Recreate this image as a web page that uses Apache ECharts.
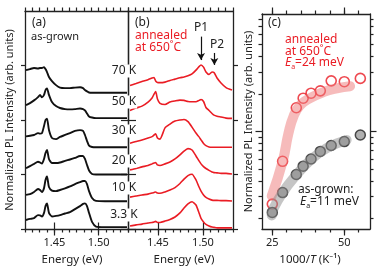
<!DOCTYPE html>
<html>
<head>
<meta charset="utf-8">
<script src="https://cdn.jsdelivr.net/npm/echarts@6/dist/echarts.min.js"></script>
<style>
html, body { margin: 0; padding: 0; background: #fff; }
#chart { width: 378px; height: 271px; }
</style>
</head>
<body>
<div id="chart"></div>
<script>
// panel (a): as-grown spectra, energies in eV
var energyA = [1.4178, 1.4223, 1.4269, 1.4314, 1.4337, 1.4359, 1.4382, 1.4399, 1.4416, 1.4438, 1.4472, 1.4518, 1.4563,
  1.4620, 1.4676, 1.4733, 1.4790, 1.4824, 1.4846, 1.4869, 1.4892, 1.4926, 1.4971, 1.5073, 1.5186, 1.5322]
var grown70 = [0.83, 0.87, 0.91, 0.89, 0.91, 0.91, 0.94, 0.87, 0.76, 0.58, 0.43, 0.28, 0.19, 0.17, 0.17, 0.19, 0.20, 0.17, 0.10, 0.05, 0.01, 0, 0, 0, 0, 0]
var grown50 = [0.55, 0.62, 0.72, 0.84, 0.92, 0.83, 0.92, 1.10, 1.16, 0.92, 0.66, 0.51, 0.44, 0.40, 0.39, 0.40, 0.42, 0.40, 0.35, 0.24, 0.13, 0.09, 0.07, 0.07, 0.07, 0.07]
var grown30 = [0.40, 0.42, 0.45, 0.52, 0.50, 0.52, 0.78, 1.00, 1.05, 0.63, 0.34, 0.30, 0.38, 0.45, 0.52, 0.60, 0.63, 0.60, 0.45, 0.23, 0.06, 0.01, 0, 0, 0, 0]
var grown20 = [0.23, 0.31, 0.39, 0.47, 0.44, 0.40, 0.57, 0.79, 0.90, 0.57, 0.42, 0.42, 0.44, 0.50, 0.55, 0.61, 0.68, 0.68, 0.57, 0.35, 0.15, 0.02, 0, 0, 0, 0]
var grown10 = [0.25, 0.28, 0.36, 0.47, 0.43, 0.36, 0.50, 0.80, 0.93, 0.54, 0.41, 0.39, 0.43, 0.49, 0.56, 0.65, 0.72, 0.76, 0.76, 0.65, 0.39, 0.14, 0.03, 0.02, 0.02, 0.02]
var grown3 = [0.33, 0.37, 0.40, 0.51, 0.50, 0.46, 0.59, 0.84, 0.94, 0.59, 0.46, 0.48, 0.51, 0.57, 0.62, 0.73, 0.84, 0.92, 0.94, 0.84, 0.59, 0.26, 0.09, 0.07, 0.07, 0.07]

// panel (b): annealed at 650 C
var energyB = [1.4189, 1.4256, 1.4322, 1.4389, 1.4434, 1.4456, 1.4474, 1.4494, 1.4522, 1.4578, 1.4633, 1.4689, 1.4744, 1.4789,
  1.4833, 1.4878, 1.4922, 1.4956, 1.4978, 1.5006, 1.5033, 1.5067, 1.5100, 1.5122, 1.5156, 1.5200, 1.5256, 1.5322]
var annealed70 = [0.27, 0.34, 0.41, 0.48, 0.54, 0.56, 0.43, 0.38, 0.37, 0.39, 0.45, 0.50, 0.55, 0.58, 0.62, 0.69, 0.83, 0.96, 1.02, 0.94, 0.76, 0.67, 0.76, 0.74, 0.54, 0.36, 0.19, 0.10]
var annealed50 = [0.35, 0.44, 0.51, 0.66, 0.81, 0.95, 1.04, 0.77, 0.61, 0.57, 0.66, 0.70, 0.73, 0.72, 0.68, 0.67, 0.67, 0.72, 0.75, 0.68, 0.46, 0.35, 0.24, 0.18, 0.14, 0.11, 0.07, 0.06]
var annealed30 = [0.15, 0.21, 0.27, 0.34, 0.39, 0.45, 0.49, 0.34, 0.30, 0.71, 0.85, 0.96, 1.00, 1.02, 0.94, 0.74, 0.52, 0.38, 0.27, 0.14, 0.06, 0.01, 0, 0, 0, 0, 0, 0]
var annealed20 = [0.17, 0.22, 0.28, 0.33, 0.39, 0.42, 0.44, 0.35, 0.33, 0.39, 0.46, 0.57, 0.72, 0.86, 0.95, 0.90, 0.68, 0.50, 0.39, 0.29, 0.22, 0.15, 0.09, 0.07, 0.06, 0.04, 0.04, 0.02]
var annealed10 = [0.17, 0.21, 0.25, 0.28, 0.32, 0.34, 0.36, 0.32, 0.31, 0.36, 0.43, 0.52, 0.67, 0.83, 0.96, 1.01, 0.80, 0.54, 0.39, 0.25, 0.16, 0.10, 0.06, 0.05, 0.05, 0.04, 0.04, 0.03]
var annealed3 = [0.11, 0.15, 0.18, 0.22, 0.24, 0.26, 0.28, 0.24, 0.24, 0.29, 0.35, 0.44, 0.59, 0.77, 0.92, 1.00, 0.88, 0.59, 0.39, 0.26, 0.17, 0.11, 0.07, 0.06, 0.04, 0.04, 0.04, 0.04]

var tempLabels = ['70 K', '50 K', '30 K', '20 K', '10 K', '3.3 K']
var offsets = [5, 4, 3, 2, 1, 0]

// panel (c): integrated intensity vs 1000/T
var invT = [25, 28.57, 33.33, 35.71, 38.46, 41.67, 45.45, 50, 55.56]
var intAnnealed = [0.26, 0.575, 1.55, 1.85, 2.03, 2.12, 2.55, 2.51, 2.67]
var intGrown = [0.223, 0.322, 0.45, 0.525, 0.60, 0.69, 0.77, 0.828, 0.935]
var fitAnnealedX = [24.8, 28.6, 30.6, 32.3, 34.6, 38.1, 42.7, 47.4, 52.0]
var fitAnnealedY = [0.303, 0.575, 0.964, 1.31, 1.62, 1.85, 2.07, 2.22, 2.31]
var fitGrownX = [24.8, 25.3, 28.6, 33.5, 38.4, 43.9, 50.8]
var fitGrownY = [0.211, 0.237, 0.322, 0.45, 0.592, 0.733, 0.853]

var FONT = 'Noto Sans'
var RED = '#ea1c24'
var AXC = '#222'

var chart = echarts.init(document.getElementById('chart'))

function pairs(xs, ys, off) {
  return xs.map(function (x, i) { return [x, ys[i] + (off || 0)] })
}

function xAx(grid, pos, min, max, tick, len, labels, name, namePad) {
  var a = {
    type: 'value', gridIndex: grid, position: pos, min: min, max: max,
    axisLine: { show: !labels, onZero: false, lineStyle: { color: AXC, width: 1.3 } },
    axisTick: { show: true, customValues: tick, length: len, lineStyle: { color: AXC, width: 1.2 } },
    axisLabel: { show: !!labels, customValues: labels || [], color: '#222', fontFamily: FONT, fontSize: 11, margin: 8,
      formatter: function (v) { return grid === 2 ? String(v) : v.toFixed(2) } },
    splitLine: { show: false }
  }
  if (name) {
    a.name = name; a.nameLocation = 'middle'; a.nameGap = 25
    a.nameTextStyle = { color: '#222', fontFamily: FONT, fontSize: 11.5, padding: namePad || 0,
      rich: { i: { fontStyle: 'italic', fontFamily: FONT, fontSize: 11.5, color: '#222' } } }
  }
  return a
}

var minorE = []
for (var k = 170; k <= 184; k++) minorE.push(k / 120)
var minorC = [25, 30, 35, 40, 45, 50, 55]
var minorLog = [0.2, 0.3, 0.4, 0.5, 0.6, 0.7, 0.8, 0.9, 2, 3, 4, 5, 6, 7, 8]
var namePads = [[0, 9, 0, 0], [0, 0, 0, 7]]

var xAxes = []
;[0, 1].forEach(function (g) {
  xAxes.push(xAx(g, 'bottom', 170 / 120, 184 / 120, minorE, 3.5, null))
  xAxes.push(xAx(g, 'bottom', 170 / 120, 184 / 120, [1.45, 1.5], 6.5, [1.45, 1.5], 'Energy (eV)', namePads[g]))
  xAxes.push(xAx(g, 'top', 170 / 120, 184 / 120, minorE, 3.5, null))
  xAxes.push(Object.assign(xAx(g, 'top', 170 / 120, 184 / 120, [1.45, 1.5], 6.5, null), { axisLine: { show: false } }))
})
xAxes.push(xAx(2, 'bottom', 21.42, 58.92, minorC, 3.5, null))
xAxes.push(xAx(2, 'bottom', 21.42, 58.92, [25, 50], 6.5, [25, 50], '1000/{i|T} (K⁻¹)', [0, 12, 0, 0]))
xAxes.push(xAx(2, 'top', 21.42, 58.92, minorC, 3.5, null))
xAxes.push(Object.assign(xAx(2, 'top', 21.42, 58.92, [25, 50], 6.5, null), { axisLine: { show: false } }))
xAxes[1].axisLine = { show: false }
xAxes[5].axisLine = { show: false }
xAxes[9].axisLine = { show: false }

var yName = 'Normalized PL Intensity (arb. units)'
function yAx(grid, pos, type, min, max, tick, len, inside, line, name) {
  var a = {
    type: type, gridIndex: grid, position: pos, min: min, max: max,
    axisLine: { show: line, onZero: false, lineStyle: { color: AXC, width: 1.3 } },
    axisTick: { show: true, inside: inside, customValues: tick, length: len, lineStyle: { color: AXC, width: 1.2 } },
    axisLabel: { show: false },
    splitLine: { show: false }
  }
  if (name) {
    a.name = name; a.nameLocation = 'middle'; a.nameGap = 10
    a.nameTextStyle = { color: '#222', fontFamily: FONT, fontSize: 11 }
  }
  return a
}

var yAxes = [
  yAx(0, 'left', 'value', 0, 8, [0, 2, 4, 6], 4, false, true, yName),
  yAx(0, 'right', 'value', 0, 8, [0, 2, 4, 6], 7, true, true),
  yAx(1, 'left', 'value', 0, 8, [0, 2, 4, 6], 8, true, true),
  yAx(1, 'right', 'value', 0, 8, [0, 2, 4, 6], 5, false, true),
  yAx(2, 'left', 'log', 0.164, 8.8, minorLog, 3.5, false, true, yName),
  yAx(2, 'left', 'log', 0.164, 8.8, [1], 6.5, false, false),
  yAx(2, 'right', 'log', 0.164, 8.8, minorLog, 3.5, false, true),
  yAx(2, 'right', 'log', 0.164, 8.8, [1], 6.5, false, false)
]
yAxes[4].nameGap = 8

var grownSpectra = [grown70, grown50, grown30, grown20, grown10, grown3]
var annealedSpectra = [annealed70, annealed50, annealed30, annealed20, annealed10, annealed3]

var series = []
grownSpectra.forEach(function (s, i) {
  series.push({
    type: 'line', xAxisIndex: 0, yAxisIndex: 0, symbol: 'none', smooth: 0.2, silent: true,
    lineStyle: { color: '#111', width: 1.9 }, data: pairs(energyA, s, offsets[i])
  })
})
annealedSpectra.forEach(function (s, i) {
  series.push({
    type: 'line', xAxisIndex: 4, yAxisIndex: 2, symbol: 'none', smooth: 0.2, silent: true,
    lineStyle: { color: RED, width: 1.6 }, data: pairs(energyB, s, offsets[i])
  })
})
// peak arrows P1, P2
series[6].markLine = {
  silent: true, symbol: ['none', 'arrow'], symbolSize: [6, 7],
  lineStyle: { color: '#111', width: 1.2, type: 'solid' }, label: { show: false },
  data: [
    [{ coord: [1.4978, 7.06] }, { coord: [1.4978, 6.2] }],
    [{ coord: [1.5126, 6.46] }, { coord: [1.5126, 6.02] }]
  ]
}

series.push({
  type: 'line', xAxisIndex: 8, yAxisIndex: 4, symbol: 'none', smooth: true, silent: true,
  lineStyle: { color: 'rgba(238,120,120,0.5)', width: 10, cap: 'round' }, data: pairs(fitAnnealedX, fitAnnealedY)
})
series.push({
  type: 'line', xAxisIndex: 8, yAxisIndex: 4, symbol: 'none', smooth: true, silent: true,
  lineStyle: { color: 'rgba(140,140,140,0.5)', width: 10, cap: 'round' }, data: pairs(fitGrownX, fitGrownY)
})
series.push({
  type: 'scatter', xAxisIndex: 8, yAxisIndex: 4, symbolSize: 10, silent: true,
  itemStyle: { color: 'rgba(255,255,255,0.5)', borderColor: RED, borderWidth: 1.6 }, data: pairs(invT, intAnnealed)
})
series.push({
  type: 'scatter', xAxisIndex: 8, yAxisIndex: 4, symbolSize: 10, silent: true,
  itemStyle: { color: '#9c9c9c', borderColor: '#222', borderWidth: 1.5 }, data: pairs(invT, intGrown)
})

function txt(text, x, y, opts) {
  var st = Object.assign({ text: text, x: x, y: y, fill: '#222', font: '11px "Noto Sans"', align: 'left', verticalAlign: 'middle' }, opts || {})
  return { type: 'text', z: 100, silent: true, style: st }
}

var tempY = [71, 102, 131, 161, 188, 215]
var graphics = [
  txt('(a)', 32, 23, { font: '12px "Noto Sans"' }),
  txt('as-grown', 31, 37),
  txt('(b)', 135, 23, { font: '12px "Noto Sans"' }),
  txt('annealed', 135, 36, { fill: RED, font: '12px "Noto Sans"' }),
  txt('at 650˚C', 135, 48, { fill: RED, font: '12px "Noto Sans"' }),
  txt('P1', 201, 28, { align: 'center', font: '12px "Noto Sans"' }),
  txt('P2', 217, 45, { align: 'center', font: '12px "Noto Sans"' }),
  txt('(c)', 268, 23, { font: '12px "Noto Sans"' }),
  txt('annealed', 285, 40, { fill: RED, font: '12px "Noto Sans"' }),
  txt('at 650˚C', 285, 52, { fill: RED, font: '12px "Noto Sans"' }),
  {
    type: 'text', z: 100, silent: true,
    style: { x: 285, y: 63, verticalAlign: 'middle', text: '{i|E}{s|a}{n|=24 meV}',
      rich: { i: { fontFamily: FONT, fontSize: 12, fontStyle: 'italic', fill: RED },
        s: { fontFamily: FONT, fontSize: 7, fill: RED, padding: [8, 0, 0, 0] },
        n: { fontFamily: FONT, fontSize: 12, fill: RED } } }
  },
  txt('as-grown:', 298, 190, { font: '12px "Noto Sans"' }),
  {
    type: 'text', z: 100, silent: true,
    style: { x: 300, y: 202, verticalAlign: 'middle', text: '{i|E}{s|a}{n|=11 meV}',
      rich: { i: { fontFamily: FONT, fontSize: 12, fontStyle: 'italic', fill: '#222' },
        s: { fontFamily: FONT, fontSize: 7, fill: '#222', padding: [8, 0, 0, 0] },
        n: { fontFamily: FONT, fontSize: 12, fill: '#222' } } }
  }
]
tempLabels.forEach(function (t, i) {
  graphics.push(txt(t, 124, tempY[i], { align: 'center', font: '12px "Noto Sans"', backgroundColor: '#fff', padding: [1, 1, 0, 1] }))
})

var option = {
  animation: false,
  backgroundColor: '#fff',
  grid: [
    { left: 25, top: 11, width: 103, height: 218 },
    { left: 128, top: 11, width: 105, height: 218 },
    { left: 262, top: 14, width: 108, height: 218 }
  ],
  xAxis: xAxes,
  yAxis: yAxes,
  series: series,
  graphic: graphics
}

chart.setOption(option)
</script>
</body>
</html>
